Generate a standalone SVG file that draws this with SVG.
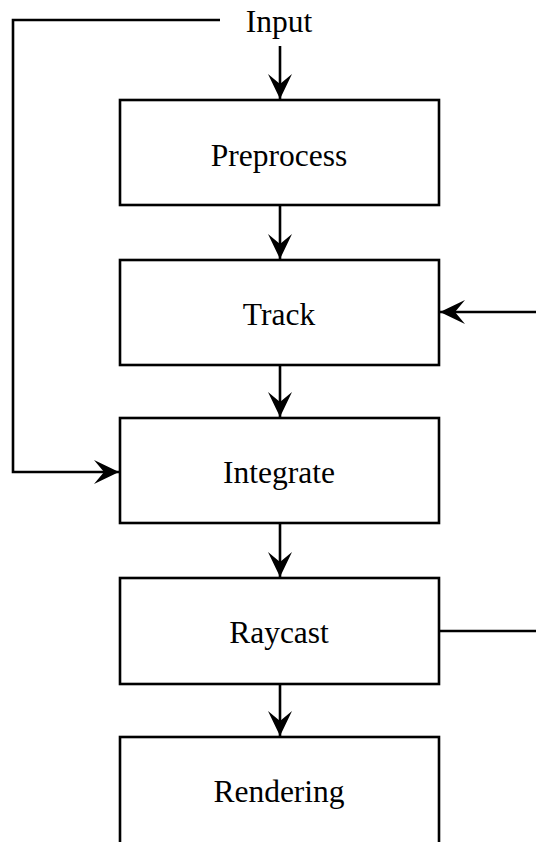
<svg xmlns="http://www.w3.org/2000/svg" width="536" height="842" viewBox="0 0 536 842">
  <style>
    .box { fill: #ffffff; stroke: #000000; stroke-width: 2.6; }
    .label { font-family: "Liberation Serif", "Times New Roman", serif; font-size: 31.5px; fill: #000000; text-anchor: middle; }
    .wire { fill: none; stroke: #000000; stroke-width: 2.6; }
    .wire.arrow { marker-end: url(#head); }
  </style>
  <defs>
    <marker id="head" markerUnits="userSpaceOnUse" markerWidth="28" markerHeight="28" viewBox="-26 -14 28 28" refX="0" refY="0" orient="auto">
      <path d="M0,0 L-25,-12 L-15,0 L-25,12 Z" fill="#000000"/>
    </marker>
  </defs>

  <rect width="536" height="842" fill="#ffffff"/>

  <g id="input">
    <text class="label" x="279" y="32">Input</text>
  </g>

  <g id="preprocess">
    <rect class="box" x="120" y="100" width="319" height="105"/>
    <text class="label" x="279" y="166">Preprocess</text>
  </g>

  <g id="track">
    <rect class="box" x="120" y="260" width="319" height="105"/>
    <text class="label" x="279" y="325">Track</text>
  </g>

  <g id="integrate">
    <rect class="box" x="120" y="418" width="319" height="105"/>
    <text class="label" x="279" y="483">Integrate</text>
  </g>

  <g id="raycast">
    <rect class="box" x="120" y="578" width="319" height="106"/>
    <text class="label" x="279" y="643">Raycast</text>
  </g>

  <g id="rendering">
    <rect class="box" x="120" y="737" width="319" height="130"/>
    <text class="label" x="279" y="802">Rendering</text>
  </g>

  <g id="connectors">
    <line class="wire arrow" x1="280" y1="46" x2="280" y2="99"/>
    <line class="wire arrow" x1="280" y1="205" x2="280" y2="259"/>
    <line class="wire arrow" x1="280" y1="365" x2="280" y2="417"/>
    <line class="wire arrow" x1="280" y1="523" x2="280" y2="577"/>
    <line class="wire arrow" x1="280" y1="684" x2="280" y2="736"/>
    <polyline class="wire arrow" points="220,20 13,20 13,472 119,472"/>
    <line class="wire arrow" x1="536" y1="312" x2="440" y2="312"/>
    <line class="wire" x1="439" y1="631" x2="536" y2="631"/>
  </g>
</svg>
